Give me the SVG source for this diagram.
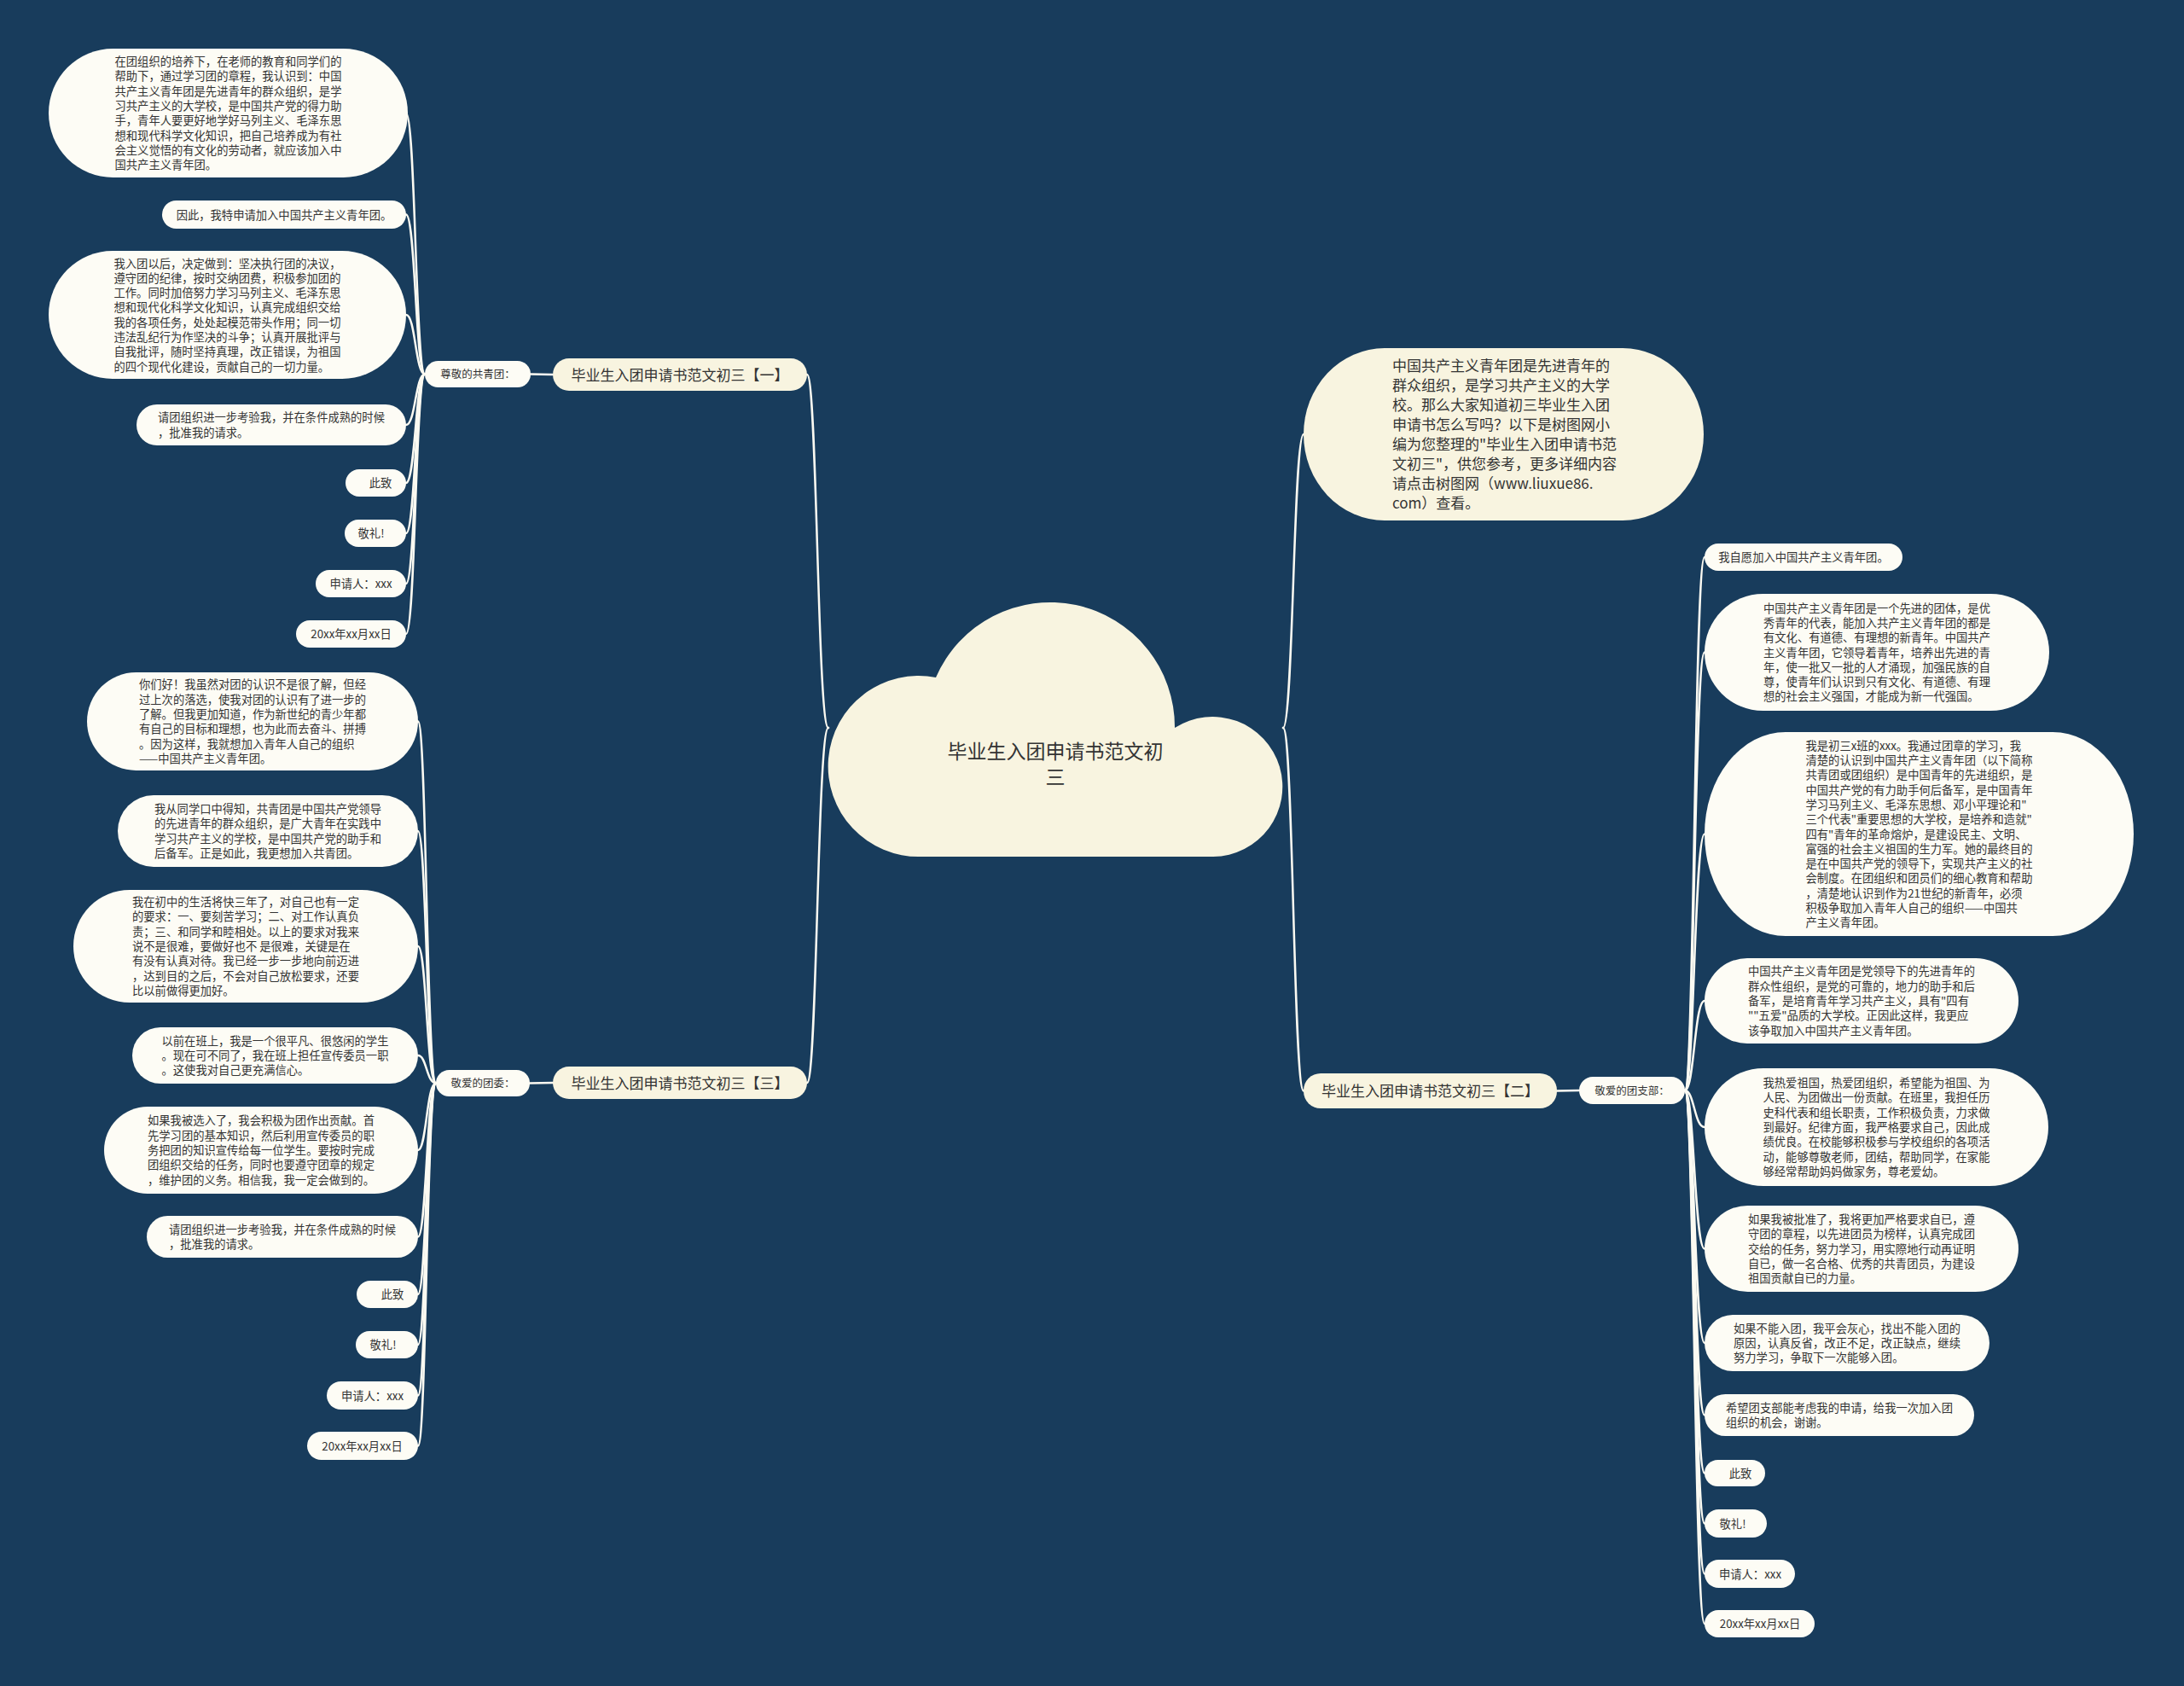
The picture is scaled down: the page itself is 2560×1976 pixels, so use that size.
<svg xmlns="http://www.w3.org/2000/svg" width="2560" height="1976" viewBox="0 0 2560 1976">
<style>
.bg{fill:#183c5c}
.leaf{fill:#fdfcf5}
.cream{fill:#f8f4e0}
.t{font-family:"Noto Sans CJK SC","Noto Sans",sans-serif;font-size:13.3px;fill:#333}
.ts{font-size:12.5px}
.tb{font-size:17px}
.tc{font-size:23px}
.m{text-anchor:middle}
.edge{fill:none;stroke:#fbfaf2;stroke-width:2.5;stroke-linecap:round}
</style>
<rect class="bg" x="0" y="0" width="2560" height="1976"/>
<g id="connectors">
<path class="edge" d="M971 853 C958 853 958 439 946 439"/>
<path class="edge" d="M971 853 C958 853 958 1269 946 1269"/>
<path class="edge" d="M1504 853 C1516 853 1516 509 1528 509"/>
<path class="edge" d="M1504 853 C1516 853 1516 1278.5 1528 1278.5"/>
<path class="edge" d="M648 439 L622 438.5"/>
<path class="edge" d="M648 1269 L621 1269.5"/>
<path class="edge" d="M1825 1278.5 L1851 1278"/>
<path class="edge" d="M498 438.5 C487 438.5 487 132.5 476 132.5"/>
<path class="edge" d="M498 438.5 C487 438.5 487 251.5 476 251.5"/>
<path class="edge" d="M498 438.5 C487 438.5 487 369 476 369"/>
<path class="edge" d="M498 438.5 C487 438.5 487 498 476 498"/>
<path class="edge" d="M498 438.5 C487 438.5 487 566 476 566"/>
<path class="edge" d="M498 438.5 C487 438.5 487 625 476 625"/>
<path class="edge" d="M498 438.5 C487 438.5 487 684 476 684"/>
<path class="edge" d="M498 438.5 C487 438.5 487 743 476 743"/>
<path class="edge" d="M511 1269.5 C500 1269.5 500 845.5 490 845.5"/>
<path class="edge" d="M511 1269.5 C500 1269.5 500 974 490 974"/>
<path class="edge" d="M511 1269.5 C500 1269.5 500 1109 490 1109"/>
<path class="edge" d="M511 1269.5 C500 1269.5 500 1237 490 1237"/>
<path class="edge" d="M511 1269.5 C500 1269.5 500 1348 490 1348"/>
<path class="edge" d="M511 1269.5 C500 1269.5 500 1449.5 490 1449.5"/>
<path class="edge" d="M511 1269.5 C500 1269.5 500 1517 490 1517"/>
<path class="edge" d="M511 1269.5 C500 1269.5 500 1576 490 1576"/>
<path class="edge" d="M511 1269.5 C500 1269.5 500 1635.5 490 1635.5"/>
<path class="edge" d="M511 1269.5 C500 1269.5 500 1694.5 490 1694.5"/>
<path class="edge" d="M1975 1278 C1986 1278 1986 653 1998 653"/>
<path class="edge" d="M1975 1278 C1986 1278 1986 764.5 1998 764.5"/>
<path class="edge" d="M1975 1278 C1986 1278 1986 977.5 1998 977.5"/>
<path class="edge" d="M1975 1278 C1986 1278 1986 1173 1998 1173"/>
<path class="edge" d="M1975 1278 C1986 1278 1986 1321 1998 1321"/>
<path class="edge" d="M1975 1278 C1986 1278 1986 1463.5 1998 1463.5"/>
<path class="edge" d="M1975 1278 C1986 1278 1986 1574 1998 1574"/>
<path class="edge" d="M1975 1278 C1986 1278 1986 1658.5 1998 1658.5"/>
<path class="edge" d="M1975 1278 C1986 1278 1986 1726.5 1998 1726.5"/>
<path class="edge" d="M1975 1278 C1986 1278 1986 1785.5 1998 1785.5"/>
<path class="edge" d="M1975 1278 C1986 1278 1986 1844.5 1998 1844.5"/>
<path class="edge" d="M1975 1278 C1986 1278 1986 1903 1998 1903"/>
</g>

<g id="root">
<path class="cream" d="M1079 1004 A106 106 0 1 1 1097 794 A146 146 0 0 1 1377 853 A82 82 0 1 1 1422 1004 Z"/>
<text class="t tc m" x="1237" y="888.7">毕业生入团申请书范文初</text>
<text class="t tc m" x="1237" y="918.7">三</text>
</g>

<g id="branch1">
<rect class="cream" x="648" y="420" width="298" height="38" rx="19"/>
<text class="t tb m" x="797" y="445.5">毕业生入团申请书范文初三【一】</text>
</g>
<g id="sub1">
<rect class="leaf" x="498" y="423" width="124" height="31" rx="15.5"/>
<text class="t ts m" x="560" y="443.2">尊敬的共青团：</text>
</g>
<g id="l1a">
<rect class="leaf" x="57" y="57" width="421" height="151" rx="75.5"/>
<text class="t" x="134.5" y="77"><tspan x="134.5">在团组织的培养下，在老师的教育和同学们的</tspan><tspan x="134.5" dy="17.3">帮助下，通过学习团的章程，我认识到：中国</tspan><tspan x="134.5" dy="17.3">共产主义青年团是先进青年的群众组织，是学</tspan><tspan x="134.5" dy="17.3">习共产主义的大学校，是中国共产党的得力助</tspan><tspan x="134.5" dy="17.3">手，青年人要更好地学好马列主义、毛泽东思</tspan><tspan x="134.5" dy="17.3">想和现代科学文化知识，把自己培养成为有社</tspan><tspan x="134.5" dy="17.3">会主义觉悟的有文化的劳动者，就应该加入中</tspan><tspan x="134.5" dy="17.3">国共产主义青年团。</tspan></text>
</g>
<g id="l1b">
<rect class="leaf" x="190" y="235" width="286" height="33" rx="16.5"/>
<text class="t m" x="333" y="256.5">因此，我特申请加入中国共产主义青年团。</text>
</g>
<g id="l1c">
<rect class="leaf" x="57" y="294" width="419" height="150" rx="75"/>
<text class="t" x="133.5" y="313.5"><tspan x="133.5">我入团以后，决定做到：坚决执行团的决议，</tspan><tspan x="133.5" dy="17.3">遵守团的纪律，按时交纳团费，积极参加团的</tspan><tspan x="133.5" dy="17.3">工作。同时加倍努力学习马列主义、毛泽东思</tspan><tspan x="133.5" dy="17.3">想和现代化科学文化知识，认真完成组织交给</tspan><tspan x="133.5" dy="17.3">我的各项任务，处处起模范带头作用；同一切</tspan><tspan x="133.5" dy="17.3">违法乱纪行为作坚决的斗争；认真开展批评与</tspan><tspan x="133.5" dy="17.3">自我批评，随时坚持真理，改正错误，为祖国</tspan><tspan x="133.5" dy="17.3">的四个现代化建设，贡献自己的一切力量。</tspan></text>
</g>
<g id="l1d">
<rect class="leaf" x="160" y="474" width="316" height="48" rx="24"/>
<text class="t" x="185" y="494.4"><tspan x="185">请团组织进一步考验我，并在条件成熟的时候</tspan><tspan x="185" dy="17.3">，批准我的请求。</tspan></text>
</g>
<g id="l1e"><rect class="leaf" x="405" y="550" width="71" height="32" rx="16"/><text class="t m" x="446" y="571">此致</text></g>
<g id="l1f"><rect class="leaf" x="404" y="609" width="72" height="32" rx="16"/><text class="t m" x="435" y="630">敬礼!</text></g>
<g id="l1g"><rect class="leaf" x="370" y="668" width="106" height="32" rx="16"/><text class="t m" x="423" y="689">申请人：xxx</text></g>
<g id="l1h"><rect class="leaf" x="347" y="727" width="129" height="32" rx="16"/><text class="t m" x="411.5" y="748">20xx年xx月xx日</text></g>

<g id="branch3">
<rect class="cream" x="648" y="1250" width="298" height="38" rx="19"/>
<text class="t tb m" x="797" y="1275.5">毕业生入团申请书范文初三【三】</text>
</g>
<g id="sub3">
<rect class="leaf" x="511" y="1254" width="110" height="31" rx="15.5"/>
<text class="t ts m" x="566" y="1274.2">敬爱的团委：</text>
</g>
<g id="l3a">
<rect class="leaf" x="102" y="788" width="388" height="115" rx="57.5"/>
<text class="t" x="163" y="807.3"><tspan x="163">你们好！我虽然对团的认识不是很了解，但经</tspan><tspan x="163" dy="17.3">过上次的落选，使我对团的认识有了进一步的</tspan><tspan x="163" dy="17.3">了解。但我更加知道，作为新世纪的青少年都</tspan><tspan x="163" dy="17.3">有自己的目标和理想，也为此而去奋斗、拼搏</tspan><tspan x="163" dy="17.3">。因为这样，我就想加入青年人自己的组织</tspan><tspan x="163" dy="17.3">——中国共产主义青年团。</tspan></text>
</g>
<g id="l3b">
<rect class="leaf" x="138" y="932" width="352" height="84" rx="42"/>
<text class="t" x="181" y="953"><tspan x="181">我从同学口中得知，共青团是中国共产党领导</tspan><tspan x="181" dy="17.3">的先进青年的群众组织，是广大青年在实践中</tspan><tspan x="181" dy="17.3">学习共产主义的学校，是中国共产党的助手和</tspan><tspan x="181" dy="17.3">后备军。正是如此，我更想加入共青团。</tspan></text>
</g>
<g id="l3c">
<rect class="leaf" x="86" y="1043" width="404" height="132" rx="66"/>
<text class="t" x="155" y="1062.1"><tspan x="155">我在初中的生活将快三年了，对自己也有一定</tspan><tspan x="155" dy="17.3">的要求：一、要刻苦学习；二、对工作认真负</tspan><tspan x="155" dy="17.3">责；三、和同学和睦相处。以上的要求对我来</tspan><tspan x="155" dy="17.3">说不是很难，要做好也不 是很难，关键是在</tspan><tspan x="155" dy="17.3">有没有认真对待。我已经一步一步地向前迈进</tspan><tspan x="155" dy="17.3">，达到目的之后，不会对自己放松要求，还要</tspan><tspan x="155" dy="17.3">比以前做得更加好。</tspan></text>
</g>
<g id="l3d">
<rect class="leaf" x="155" y="1204" width="335" height="66" rx="33"/>
<text class="t" x="189.5" y="1224.7"><tspan x="189.5">以前在班上，我是一个很平凡、很悠闲的学生</tspan><tspan x="189.5" dy="17.3">。现在可不同了，我在班上担任宣传委员一职</tspan><tspan x="189.5" dy="17.3">。这使我对自己更充满信心。</tspan></text>
</g>
<g id="l3e">
<rect class="leaf" x="122" y="1297" width="368" height="102" rx="51"/>
<text class="t" x="173" y="1318.4"><tspan x="173">如果我被选入了，我会积极为团作出贡献。首</tspan><tspan x="173" dy="17.3">先学习团的基本知识，然后利用宣传委员的职</tspan><tspan x="173" dy="17.3">务把团的知识宣传给每一位学生。要按时完成</tspan><tspan x="173" dy="17.3">团组织交给的任务，同时也要遵守团章的规定</tspan><tspan x="173" dy="17.3">，维护团的义务。相信我，我一定会做到的。</tspan></text>
</g>
<g id="l3f">
<rect class="leaf" x="172" y="1425" width="318" height="49" rx="24.5"/>
<text class="t" x="198" y="1445.9"><tspan x="198">请团组织进一步考验我，并在条件成熟的时候</tspan><tspan x="198" dy="17.3">，批准我的请求。</tspan></text>
</g>
<g id="l3g"><rect class="leaf" x="418" y="1501" width="72" height="32" rx="16"/><text class="t m" x="460" y="1522">此致</text></g>
<g id="l3h"><rect class="leaf" x="417" y="1560" width="73" height="32" rx="16"/><text class="t m" x="449" y="1581">敬礼!</text></g>
<g id="l3i"><rect class="leaf" x="383" y="1619" width="107" height="33" rx="16.5"/><text class="t m" x="436.5" y="1640.5">申请人：xxx</text></g>
<g id="l3j"><rect class="leaf" x="360" y="1678" width="130" height="33" rx="16.5"/><text class="t m" x="424.5" y="1699.5">20xx年xx月xx日</text></g>

<g id="intro">
<rect class="cream" x="1528" y="408" width="469" height="202" rx="95" ry="101"/>
<text class="t tb" x="1632" y="435"><tspan x="1632">中国共产主义青年团是先进青年的</tspan><tspan x="1632" dy="23">群众组织，是学习共产主义的大学</tspan><tspan x="1632" dy="23">校。那么大家知道初三毕业生入团</tspan><tspan x="1632" dy="23">申请书怎么写吗？以下是树图网小</tspan><tspan x="1632" dy="23">编为您整理的"毕业生入团申请书范</tspan><tspan x="1632" dy="23">文初三"，供您参考，更多详细内容</tspan><tspan x="1632" dy="23">请点击树图网（www.liuxue86.</tspan><tspan x="1632" dy="23">com）查看。</tspan></text>
</g>

<g id="branch2">
<rect class="cream" x="1528" y="1258" width="297" height="41" rx="20"/>
<text class="t tb m" x="1676.5" y="1285">毕业生入团申请书范文初三【二】</text>
</g>
<g id="sub2">
<rect class="leaf" x="1851" y="1262" width="124" height="32" rx="16"/>
<text class="t ts m" x="1913" y="1282.8">敬爱的团支部：</text>
</g>
<g id="r1"><rect class="leaf" x="1998" y="637" width="232" height="32" rx="16"/><text class="t m" x="2114" y="658">我自愿加入中国共产主义青年团。</text></g>
<g id="r2">
<rect class="leaf" x="1998" y="696" width="404" height="137" rx="68.5"/>
<text class="t" x="2067" y="717.6"><tspan x="2067">中国共产主义青年团是一个先进的团体，是优</tspan><tspan x="2067" dy="17.3">秀青年的代表，能加入共产主义青年团的都是</tspan><tspan x="2067" dy="17.3">有文化、有道德、有理想的新青年。中国共产</tspan><tspan x="2067" dy="17.3">主义青年团，它领导着青年，培养出先进的青</tspan><tspan x="2067" dy="17.3">年，使一批又一批的人才涌现，加强民族的自</tspan><tspan x="2067" dy="17.3">尊，使青年们认识到只有文化、有道德、有理</tspan><tspan x="2067" dy="17.3">想的社会主义强国，才能成为新一代强国。</tspan></text>
</g>
<g id="r3">
<rect class="leaf" x="1998" y="858" width="503" height="239" rx="95" ry="119.5"/>
<text class="t" x="2116.5" y="878.7"><tspan x="2116.5">我是初三x班的xxx。我通过团章的学习，我</tspan><tspan x="2116.5" dy="17.3">清楚的认识到中国共产主义青年团（以下简称</tspan><tspan x="2116.5" dy="17.3">共青团或团组织）是中国青年的先进组织，是</tspan><tspan x="2116.5" dy="17.3">中国共产党的有力助手何后备军，是中国青年</tspan><tspan x="2116.5" dy="17.3">学习马列主义、毛泽东思想、邓小平理论和"</tspan><tspan x="2116.5" dy="17.3">三个代表"重要思想的大学校，是培养和造就"</tspan><tspan x="2116.5" dy="17.3">四有"青年的革命熔炉，是建设民主、文明、</tspan><tspan x="2116.5" dy="17.3">富强的社会主义祖国的生力军。她的最终目的</tspan><tspan x="2116.5" dy="17.3">是在中国共产党的领导下，实现共产主义的社</tspan><tspan x="2116.5" dy="17.3">会制度。在团组织和团员们的细心教育和帮助</tspan><tspan x="2116.5" dy="17.3">，清楚地认识到作为21世纪的新青年，必须</tspan><tspan x="2116.5" dy="17.3">积极争取加入青年人自己的组织——中国共</tspan><tspan x="2116.5" dy="17.3">产主义青年团。</tspan></text>
</g>
<g id="r4">
<rect class="leaf" x="1998" y="1123" width="368" height="100" rx="50"/>
<text class="t" x="2049" y="1143.4"><tspan x="2049">中国共产主义青年团是党领导下的先进青年的</tspan><tspan x="2049" dy="17.3">群众性组织，是党的可靠的，地力的助手和后</tspan><tspan x="2049" dy="17.3">备军，是培育青年学习共产主义，具有"四有</tspan><tspan x="2049" dy="17.3">""五爱"品质的大学校。正因此这样，我更应</tspan><tspan x="2049" dy="17.3">该争取加入中国共产主义青年团。</tspan></text>
</g>
<g id="r5">
<rect class="leaf" x="1998" y="1252" width="403" height="138" rx="69"/>
<text class="t" x="2066.5" y="1274.1"><tspan x="2066.5">我热爱祖国，热爱团组织，希望能为祖国、为</tspan><tspan x="2066.5" dy="17.3">人民、为团做出一份贡献。在班里，我担任历</tspan><tspan x="2066.5" dy="17.3">史科代表和组长职责，工作积极负责，力求做</tspan><tspan x="2066.5" dy="17.3">到最好。纪律方面，我严格要求自己，因此成</tspan><tspan x="2066.5" dy="17.3">绩优良。在校能够积极参与学校组织的各项活</tspan><tspan x="2066.5" dy="17.3">动，能够尊敬老师，团结，帮助同学，在家能</tspan><tspan x="2066.5" dy="17.3">够经常帮助妈妈做家务，尊老爱幼。</tspan></text>
</g>
<g id="r6">
<rect class="leaf" x="1998" y="1413" width="368" height="101" rx="50.5"/>
<text class="t" x="2049" y="1433.9"><tspan x="2049">如果我被批准了，我将更加严格要求自已，遵</tspan><tspan x="2049" dy="17.3">守团的章程，以先进团员为榜样，认真完成团</tspan><tspan x="2049" dy="17.3">交给的任务，努力学习，用实際地行动再证明</tspan><tspan x="2049" dy="17.3">自已，做一名合格、优秀的共青团员，为建设</tspan><tspan x="2049" dy="17.3">祖国贡献自已的力量。</tspan></text>
</g>
<g id="r7">
<rect class="leaf" x="1998" y="1541" width="334" height="66" rx="33"/>
<text class="t" x="2032" y="1561.7"><tspan x="2032">如果不能入团，我平会灰心，找出不能入团的</tspan><tspan x="2032" dy="17.3">原因，认真反省，改正不足，改正缺点，继续</tspan><tspan x="2032" dy="17.3">努力学习，争取下一次能够入团。</tspan></text>
</g>
<g id="r8">
<rect class="leaf" x="1998" y="1634" width="316" height="49" rx="24.5"/>
<text class="t" x="2023" y="1654.9"><tspan x="2023">希望团支部能考虑我的申请，给我一次加入团</tspan><tspan x="2023" dy="17.3">组织的机会，谢谢。</tspan></text>
</g>
<g id="r9"><rect class="leaf" x="1998" y="1711" width="71" height="31" rx="15.5"/><text class="t m" x="2040" y="1731.5">此致</text></g>
<g id="r10"><rect class="leaf" x="1998" y="1769" width="73" height="33" rx="16.5"/><text class="t m" x="2031" y="1790.5">敬礼!</text></g>
<g id="r11"><rect class="leaf" x="1998" y="1828" width="106" height="33" rx="16.5"/><text class="t m" x="2051.5" y="1849.5">申请人：xxx</text></g>
<g id="r12"><rect class="leaf" x="1998" y="1887" width="129" height="32" rx="16"/><text class="t m" x="2063" y="1908">20xx年xx月xx日</text></g>
</svg>
